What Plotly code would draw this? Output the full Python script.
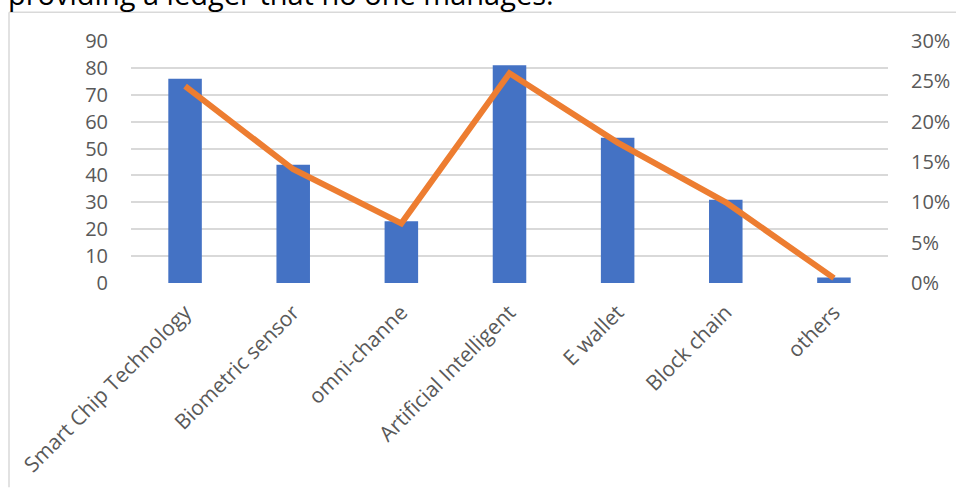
import plotly.graph_objects as go

categories = ["Smart Chip Technology", "Biometric sensor", "omni-channe",
              "Artificial Intelligent", "E wallet", "Block chain", "others"]
counts = [76, 44, 23, 81, 54, 31, 2]
percent = [0.244, 0.141, 0.074, 0.260, 0.174, 0.100, 0.006]
left_ticks = list(range(0, 91, 10))
right_ticks = [0, 0.05, 0.10, 0.15, 0.20, 0.25, 0.30]

W, H = 956, 488
L, R, T, B = 131, 888, 40.7, 283.3

def px(x):
    return (x - L) / (R - L)

def py(y):
    return (B - y) / (B - T)

fig = go.Figure()
fig.add_trace(go.Bar(x=categories, y=counts, marker=dict(color="#4472C4", line=dict(width=0)),
                     yaxis="y", showlegend=False))
fig.add_trace(go.Scatter(x=categories, y=percent, mode="lines",
                         line=dict(color="#ED7D31", width=6), yaxis="y2", showlegend=False))

font = dict(family="Open Sans", size=20, color="#595959")
xfont = dict(family="Open Sans", size=21, color="#595959")

fig.update_layout(
    width=W, height=H,
    margin=dict(l=L, r=W - R, t=T, b=H - B, pad=0),
    paper_bgcolor="white", plot_bgcolor="white",
    bargap=0.69,
    font=font,
    xaxis=dict(tickangle=-45, tickfont=xfont, showgrid=False, showline=False,
               ticks="", automargin=False, ticklabelstandoff=12),
    yaxis=dict(range=[0, 90], tickvals=left_ticks, showgrid=True, gridcolor="#D9D9D9",
               gridwidth=1.5, zeroline=False, showline=False, ticks="", tickfont=font,
               ticklabelstandoff=22, automargin=False),
    yaxis2=dict(range=[0, 0.30], tickvals=right_ticks, tickformat=".0%", overlaying="y",
                side="right", showgrid=False, zeroline=False, showline=False, ticks="",
                tickfont=font, ticklabelstandoff=22, automargin=False),
    shapes=[
        dict(type="line", xref="paper", yref="paper", x0=px(9), x1=px(956), y0=py(12), y1=py(12),
             line=dict(color="#D9D9D9", width=1.5)),
        dict(type="line", xref="paper", yref="paper", x0=px(9), x1=px(9), y0=py(12), y1=py(488),
             line=dict(color="#D9D9D9", width=1.5)),
    ],
    annotations=[
        dict(text="providing a ledger that no one manages.", xref="paper", yref="paper",
             x=px(6), y=py(15), xanchor="left", yanchor="bottom", showarrow=False,
             font=dict(family="Open Sans", size=29, color="#000000")),
    ],
)

fig.write_html("out.html")
